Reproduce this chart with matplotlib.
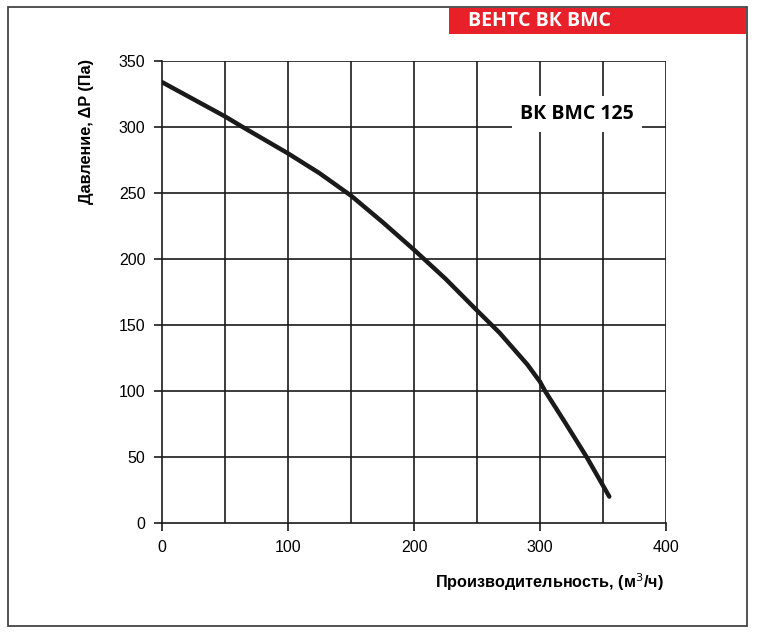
import numpy as np
import matplotlib.pyplot as plt
from matplotlib.patches import Rectangle

# Данные кривой (расход м3/ч, давление Па)
rashod = [0, 25, 50, 64, 100, 125, 150, 175, 200, 225, 250, 268, 279, 290, 300, 304, 320, 337, 355]
davlenie = [334, 321, 308, 300, 280, 265, 248, 228, 207, 185, 161, 144, 132, 120, 107, 100, 76, 50, 20]

x_ticks = [0, 100, 200, 300, 400]
y_ticks = [0, 50, 100, 150, 200, 250, 300, 350]

plt.rcParams['font.family'] = ['Liberation Sans', 'DejaVu Sans']

fig = plt.figure(figsize=(7.58, 6.43), dpi=100)

# Рамка вокруг всей картинки
fig.patches.append(Rectangle((8 / 758, 1 - 626 / 643), 739 / 758, 619 / 643,
                             transform=fig.transFigure, fill=False,
                             edgecolor='#444444', linewidth=1.3))

# Красная плашка с заголовком
fig.patches.append(Rectangle((449 / 758, 1 - 34 / 643), 297 / 758, 26 / 643,
                             transform=fig.transFigure, facecolor='#e8202a',
                             edgecolor='none'))
fig.text(468 / 758, 1 - 21 / 643, 'ВЕНТС ВК ВМС', color='white', fontsize=14,
         fontweight='bold', ha='left', va='center', family=['Open Sans', 'DejaVu Sans'])

ax = fig.add_axes([162 / 758, 1 - 523 / 643, 504 / 758, 462 / 643])
ax.set_xlim(0, 400)
ax.set_ylim(0, 350)

# Сетка через 50
for xv in np.arange(50, 401, 50):
    ax.axvline(xv, color='#1a1a1a', linewidth=1.2, zorder=1)
for yv in np.arange(50, 351, 50):
    ax.axhline(yv, color='#1a1a1a', linewidth=1.2, zorder=1)

ax.plot(rashod, davlenie, color='#1a1a1a', linewidth=3.2, solid_capstyle='round',
        solid_joinstyle='round', zorder=3)

for s in ['top', 'right']:
    ax.spines[s].set_visible(False)
for s in ['left', 'bottom']:
    ax.spines[s].set_linewidth(1.2)
    ax.spines[s].set_color('#1a1a1a')

ax.set_xticks(x_ticks)
ax.set_yticks(y_ticks)
ax.tick_params(direction='out', length=6, width=1.2, labelsize=11.5, pad=6, color='#1a1a1a')

ax.text(0.823, 0.885, 'ВК ВМС 125', transform=ax.transAxes, fontsize=14,
        fontweight='bold', ha='center', va='center', family=['Open Sans', 'DejaVu Sans'],
        bbox=dict(facecolor='white', edgecolor='none', pad=6), zorder=4)

fig.text(549 / 758, 1 - 582 / 643, 'Производительность, (м$^3$/ч)', fontsize=11.7,
         fontweight='bold', ha='center', va='center')
fig.text(86 / 758, 1 - 132 / 643, 'Давление, ΔP (Па)', fontsize=11.7,
         fontweight='bold', ha='center', va='center', rotation=90)

fig.savefig('out.png', dpi=100)
